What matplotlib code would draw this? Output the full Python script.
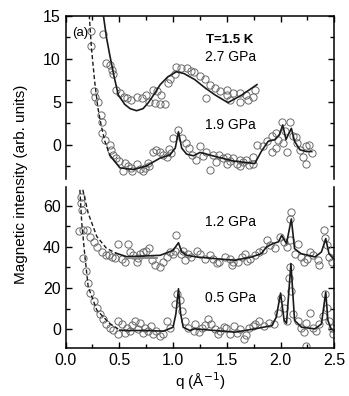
import matplotlib.pyplot as plt
from matplotlib.ticker import MultipleLocator

plt.rcParams['font.family'] = ['Liberation Sans', 'DejaVu Sans']

# ---- top panel: 2.7 GPa ----
q27_fit = [0.35, 0.38, 0.41, 0.45, 0.49, 0.55, 0.60, 0.66, 0.72, 0.77, 0.83, 0.88, 0.95, 1.03,
           1.10, 1.20, 1.30, 1.39, 1.51, 1.64, 1.78]
i27_fit = [15.2, 12.5, 10.5, 8.0, 5.8, 4.7, 4.2, 3.96, 4.2, 4.9, 6.0, 7.0, 7.9, 8.5,
           8.3, 7.6, 6.6, 5.8, 4.9, 5.8, 7.0]
q27 = [0.35, 0.38, 0.41, 0.43, 0.44, 0.47, 0.505, 0.54, 0.57, 0.61, 0.66, 0.71, 0.75, 0.78,
       0.81, 0.83, 0.85, 0.88, 0.89, 0.92, 0.95, 0.97, 1.02, 1.03, 1.07, 1.125, 1.17, 1.19,
       1.25, 1.30, 1.31, 1.34, 1.39, 1.44, 1.50, 1.50, 1.53, 1.56, 1.62, 1.62, 1.68, 1.70,
       1.745, 1.76]
i27 = [12.9, 9.5, 9.3, 8.7, 8.2, 6.4, 6.0, 5.6, 5.4, 5.2, 5.6, 5.4, 5.8, 5.0,
       6.4, 4.9, 6.2, 4.7, 5.8, 4.7, 7.2, 7.6, 8.2, 9.0, 8.9, 8.9, 8.6, 8.5,
       8.0, 7.6, 5.4, 7.0, 6.6, 6.2, 5.8, 6.4, 5.2, 6.0, 6.0, 5.0, 5.8, 5.2,
       5.6, 6.4]

# ---- top panel: 1.9 GPa ----
q19_dash = [0.22, 0.24, 0.27, 0.30, 0.33, 0.365, 0.41]
i19_dash = [15.1, 11.3, 7.4, 4.3, 2.3, 0.4, -1.2]
q19_fit = [0.41, 0.505, 0.63, 0.75, 0.88, 0.97, 1.02, 1.05, 1.08, 1.125, 1.19, 1.25, 1.40,
           1.56, 1.76, 1.82, 1.885, 1.95, 1.99, 2.02, 2.05, 2.10, 2.13, 2.18, 2.24, 2.29]
i19_fit = [-1.2, -2.7, -2.9, -2.5, -1.55, -1.2, -0.4, 1.5, -0.4, -1.1, -1.3, -0.9, -1.4,
           -1.9, -2.2, -0.8, 0.4, 0.6, 1.2, 2.3, 0.6, 1.9, 0.4, -0.6, -0.8, -0.8]
q19 = [0.24, 0.24, 0.26, 0.27, 0.30, 0.33, 0.34, 0.34, 0.37, 0.41, 0.42, 0.44, 0.47, 0.50,
       0.53, 0.55, 0.58, 0.61, 0.62, 0.66, 0.69, 0.72, 0.74, 0.77, 0.78, 0.81, 0.84, 0.88,
       0.91, 0.94, 1.00, 1.05, 1.08, 1.12, 1.15, 1.18, 1.25, 1.31, 1.34, 1.37, 1.43, 1.50,
       1.50, 1.56, 1.62, 1.62, 1.68, 1.745, 1.745, 1.78, 1.84, 1.87, 1.92, 1.92, 1.96, 1.96,
       2.01, 2.02, 2.06, 2.09, 2.12, 2.15, 2.18, 2.21, 2.24, 2.26, 2.29, 2.24,
       0.96, 0.98, 1.21, 1.28, 1.40, 1.46, 1.53, 1.59, 1.65, 1.71, 1.98, 2.04, 2.14]
i19 = [13.3, 11.5, 6.3, 5.6, 5.0, 3.5, 2.7, 1.4, 0.6, 0.0, -0.6, -1.2, -1.6, -1.9,
       -3.1, -2.1, -2.5, -2.7, -3.1, -2.3, -2.8, -3.1, -2.7, -2.1, -2.5, -0.8, -0.6, -0.8,
       -1.2, -1.4, 0.8, 1.75, 0.8, 0.2, -0.4, -1.2, -0.2, -0.8, -2.9, -1.2, -1.2, -1.4,
       -2.3, -1.6, -1.75, -2.5, -1.75, -1.4, -2.3, 0.0, -0.2, 0.4, 1.0, -0.8, 1.4, -0.4,
       2.7, 0.2, -0.8, 2.7, 1.0, 0.2, -0.6, -1.4, -0.2, 0.0, -1.0, -2.2,
       -0.5, -1.0, -1.8, -1.3, -2.0, -1.6, -1.9, -2.2, -2.0, -2.4, 0.6, 1.6, 0.9]

# ---- bottom panel: 1.2 GPa ----
q12_dash = [0.16, 0.21, 0.29, 0.38, 0.47]
i12_dash = [67.6, 56.3, 45.0, 39.3, 36.9]
q12_fit = [0.47, 0.57, 0.88, 1.00, 1.05, 1.08, 1.125, 1.22, 1.39, 1.575, 1.73, 1.82, 1.87,
           1.93, 1.98, 2.01, 2.055, 2.10, 2.13, 2.19, 2.32, 2.38, 2.42, 2.45, 2.49]
i12_fit = [36.9, 35.2, 35.9, 38.3, 42.0, 37.5, 35.9, 35.1, 34.3, 33.5, 35.1, 36.7, 40.0,
           41.6, 42.4, 45.5, 41.6, 53.5, 39.1, 36.7, 35.1, 37.5, 44.0, 36.7, 34.3]
q12_grey = [0.55, 0.85]
i12_grey = [34.5, 34.5]
q12 = [0.125, 0.195, 0.23, 0.26, 0.29, 0.335, 0.38, 0.43, 0.49, 0.52, 0.55, 0.58, 0.60,
       0.63, 0.66, 0.67, 0.69, 0.72, 0.75, 0.78, 0.83, 0.88, 0.91, 0.94, 0.97, 1.02, 1.03,
       1.07, 1.094, 1.14, 1.17, 1.22, 1.25, 1.30, 1.34, 1.37, 1.43, 1.48, 1.53, 1.545, 1.60,
       1.64, 1.67, 1.72, 1.76, 1.80, 1.84, 1.87, 1.90, 1.95, 1.995, 2.03, 2.06, 2.085, 2.10,
       2.13, 2.16, 2.19, 2.22, 2.27, 2.30, 2.35, 2.36, 2.40, 2.43, 2.45, 2.48,
       0.40, 0.46, 0.80, 1.00, 1.11, 1.41, 1.56, 1.69, 2.09, 2.25, 2.41]
i12 = [47.5, 48.0, 44.8, 42.4, 40.0, 37.5, 35.9, 35.1, 41.6, 34.3, 32.7, 41.6, 37.5,
       35.9, 32.7, 34.6, 36.7, 37.5, 38.2, 39.2, 31.1, 30.2, 32.7, 35.1, 37.5, 38.2, 45.6,
       36.7, 38.2, 36.7, 35.1, 38.2, 36.7, 34.3, 35.9, 34.3, 32.7, 35.1, 34.3, 31.1, 32.7,
       35.1, 36.7, 34.3, 35.9, 37.5, 38.3, 43.2, 40.8, 39.2, 44.8, 42.4, 40.0, 43.2, 57.0,
       36.7, 41.6, 35.1, 32.7, 37.5, 35.9, 33.5, 31.1, 48.0, 40.8, 35.1, 32.7,
       36.0, 34.8, 33.5, 36.5, 33.8, 32.0, 32.5, 33.0, 53.5, 34.0, 44.5]

# ---- bottom panel: 0.5 GPa ----
q05_dash = [0.133, 0.15, 0.18, 0.21, 0.29, 0.41, 0.505]
i05_dash = [67.6, 51.6, 35.2, 20.7, 9.4, 2.9, -0.3]
q05_fit = [0.505, 0.57, 0.75, 0.91, 1.00, 1.026, 1.05, 1.07, 1.094, 1.156, 1.20, 1.39, 1.575,
           1.76, 1.92, 1.96, 2.00, 2.033, 2.055, 2.096, 2.13, 2.195, 2.32, 2.38, 2.42, 2.44,
           2.47, 2.50]
i05_fit = [-0.3, -0.5, -0.5, -0.8, 1.1, 7.6, 19.7, 7.6, 1.1, -0.5, 0.3, -0.5, -1.3,
           0.3, 1.9, 6.0, 17.6, 4.4, 3.0, 31.9, 4.4, 1.1, 0.3, 2.7, 18.1, 4.4, 0.3, -0.5]
q05 = [0.14, 0.145, 0.15, 0.16, 0.165, 0.19, 0.21, 0.23, 0.26, 0.29, 0.32, 0.35, 0.38, 0.41,
       0.44, 0.49, 0.49, 0.52, 0.57, 0.60, 0.65, 0.67, 0.69, 0.74, 0.77, 0.81, 0.84, 0.88,
       0.91, 0.94, 0.97, 1.02, 1.04, 1.06, 1.08, 1.11, 1.14, 1.19, 1.20, 1.27, 1.32, 1.35,
       1.39, 1.44, 1.49, 1.53, 1.57, 1.62, 1.66, 1.71, 1.76, 1.80, 1.85, 1.89, 1.94, 1.98,
       2.00, 2.03, 2.06, 2.08, 2.10, 2.12, 2.16, 2.19, 2.24, 2.27, 2.30, 2.33, 2.36, 2.41,
       2.43, 2.45, 2.475, 2.49, 2.24,
       0.55, 0.62, 0.72, 0.79, 1.24, 1.30, 1.42, 1.47, 1.59, 1.68, 1.74, 2.09, 2.22, 2.39]
i05 = [64.2, 61.0, 57.8, 48.0, 34.7, 28.2, 22.6, 17.8, 13.7, 10.5, 7.3, 4.9, 2.5, 0.9,
       -0.4, 4.1, -2.0, 2.5, 0.9, -0.7, 4.1, 0.1, 3.3, 0.9, -0.7, -2.3, -0.7, -3.1,
       -2.3, 4.1, 0.9, 12.2, 17.0, 14.5, 8.9, 4.1, 0.9, -0.7, 2.5, 0.9, 4.9, 2.5,
       0.1, -0.7, 0.9, -2.3, 1.7, 0.1, -4.7, 0.9, 2.5, 4.1, 1.7, 3.3, 2.5, 8.1,
       15.4, 10.5, 4.1, 25.0, 18.6, 7.3, 4.1, 0.9, 3.3, 8.1, 0.9, -0.7, 2.5, 17.0,
       10.5, 4.1, 0.9, -2.3, -8.0,
       -1.5, 2.0, -1.8, 1.5, -1.2, 2.0, -2.0, 1.2, -1.5, -2.5, 1.5, 30.0, -1.0, 6.5]

fig = plt.figure(figsize=(3.49, 3.96), dpi=100)
ax1 = fig.add_axes([0.188, 0.548, 0.770, 0.4116])
ax2 = fig.add_axes([0.188, 0.121, 0.770, 0.407])

circ = dict(ls='none', marker='o', ms=5.2, mfc='none', mec='#6a6a6a', mew=0.7, zorder=2)
fit = dict(color='#1a1a1a', lw=1.2, zorder=3)
dash = dict(color='#1a1a1a', lw=1.0, ls=(0, (3, 1.8)), zorder=3)

ax1.plot(q27, i27, **circ)
ax1.plot(q19, i19, **circ)
ax1.plot(q27_fit, i27_fit, **fit)
ax1.plot(q19_dash, i19_dash, **dash)
ax1.plot(q19_fit, i19_fit, **fit)

ax2.plot(q12, i12, **circ)
ax2.plot(q05, i05, **circ)
ax2.plot(q12_dash, i12_dash, **dash)
ax2.plot(q12_fit, i12_fit, **fit)
ax2.plot(q12_grey, i12_grey, color='#8a8a8a', lw=1.4, zorder=4)
ax2.plot(q05_dash, i05_dash, **dash)
ax2.plot(q05_fit, i05_fit, **fit)

ax1.set_xlim(0, 2.5)
ax2.set_xlim(0, 2.5)
ax1.set_ylim(-4, 15)
ax2.set_ylim(-9, 69)

ax1.yaxis.set_major_locator(MultipleLocator(5))
ax1.yaxis.set_minor_locator(MultipleLocator(2.5))
ax2.yaxis.set_major_locator(MultipleLocator(20))
ax2.yaxis.set_minor_locator(MultipleLocator(10))
for ax in (ax1, ax2):
    ax.xaxis.set_major_locator(MultipleLocator(0.5))
    ax.xaxis.set_minor_locator(MultipleLocator(0.25))
    ax.tick_params(which='both', direction='in', right=True, width=1.0, labelsize=11.5)
    ax.tick_params(which='major', length=4)
    ax.tick_params(which='minor', length=3)
    for s in ax.spines.values():
        s.set_linewidth(1.1)

ax1.spines['bottom'].set_visible(False)
ax1.tick_params(which='both', top=True, bottom=False, labelbottom=False)
ax2.spines['top'].set_visible(False)
ax2.tick_params(which='both', top=False)

ax1.text(0.06, 13.05, '(a)', fontsize=9.5, va='center')
ax1.text(1.53, 12.2, 'T=1.5 K', fontsize=9.5, fontweight='bold', ha='center', va='center')
ax1.text(1.53, 10.2, '2.7 GPa', fontsize=10, ha='center', va='center')
ax1.text(1.53, 2.3, '1.9 GPa', fontsize=10, ha='center', va='center')
ax2.text(1.53, 52, '1.2 GPa', fontsize=10, ha='center', va='center')
ax2.text(1.53, 15.2, '0.5 GPa', fontsize=10, ha='center', va='center')

ax2.set_xlabel('q (Å$^{-1}$)', fontsize=11, labelpad=2)
fig.text(0.06, 0.535, 'Magnetic intensity (arb. units)', rotation=90,
         fontsize=11, ha='center', va='center')

fig.savefig('out.png', dpi=100)
